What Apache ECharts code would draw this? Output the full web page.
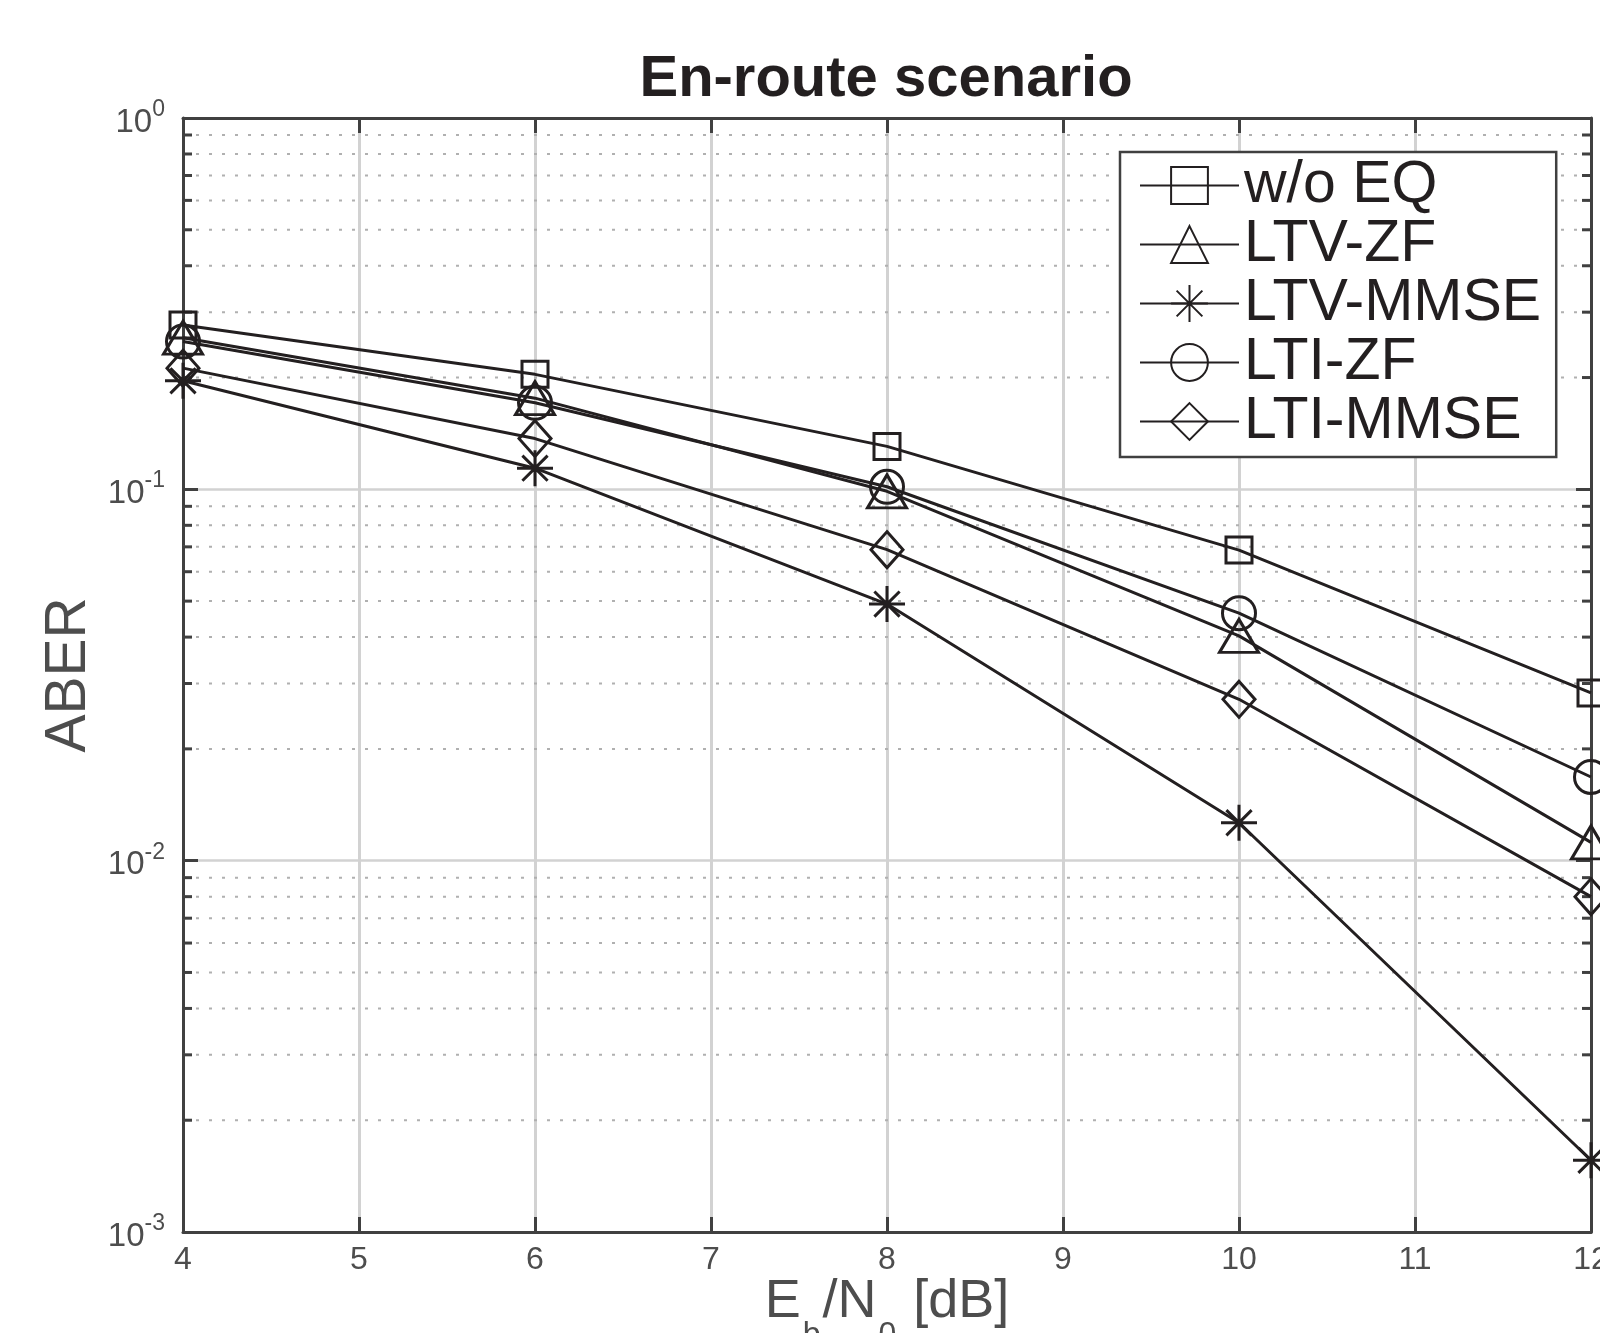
<!DOCTYPE html>
<html>
<head>
<meta charset="utf-8">
<title>En-route scenario</title>
<script src="https://cdn.jsdelivr.net/npm/echarts@6/dist/echarts.min.js"></script>
<style>
  html, body { margin: 0; padding: 0; background: #fff; }
  #chart { width: 1600px; height: 1333px; }
</style>
</head>
<body>
<div id="chart"></div>
<script>
// Eb/N0 in dB
const ebn0 = [4, 6, 8, 10, 12];

// ABER per equalizer
const woEq = [0.277, 0.204, 0.1305, 0.0686, 0.0283];
const ltvZf = [0.256, 0.176, 0.0988, 0.0403, 0.0112];
const ltvMmse = [0.196, 0.114, 0.0491, 0.01265, 0.00156];
const ltiZf = [0.250, 0.171, 0.1016, 0.0464, 0.0168];
const ltiMmse = [0.212, 0.137, 0.0688, 0.0272, 0.0080];

const seriesNames = ["w/o EQ", "LTV-ZF", "LTV-MMSE", "LTI-ZF", "LTI-MMSE"];

// minor grid values of the log axis (2..9 in each decade)
const minorTicks = [
  0.002, 0.003, 0.004, 0.005, 0.006, 0.007, 0.008, 0.009,
  0.02, 0.03, 0.04, 0.05, 0.06, 0.07, 0.08, 0.09,
  0.2, 0.3, 0.4, 0.5, 0.6, 0.7, 0.8, 0.9,
];

const FONT = "Liberation Sans";
const INK = "#231f20";
const AXIS = "#404040";
const TICKTXT = "#4d4d4d";

const star = "path://M10,0 L10,20 M0,10 L20,10 M3,3 L17,17 M3,17 L17,3";

const pairs = (ys) => ebn0.map((x, i) => [x, ys[i]]);

const makeLine = (name, ys, symbol, size) => ({
  name: name,
  type: "line",
  data: pairs(ys),
  symbol: symbol,
  symbolSize: size,
  showSymbol: true,
  z: 3,
  lineStyle: { color: INK, width: 3 },
  itemStyle: { color: "rgba(0,0,0,0)", borderColor: INK, borderWidth: 3 },
  emphasis: { disabled: true },
});

const chart = echarts.init(document.getElementById("chart"));

const option = {
  animation: false,
  backgroundColor: "#fff",
  title: {
    text: "En-route scenario",
    left: 881,
    textAlign: "center",
    top: 46,
    textStyle: {
      fontFamily: FONT,
      fontSize: 58,
      fontWeight: "bold",
      color: INK,
      lineHeight: 58,
    },
  },
  grid: { left: 183, right: 9, top: 118, bottom: 101, outerBoundsMode: "none", containLabel: false },
  legend: {
    data: seriesNames,
    orient: "vertical",
    left: 1120,
    top: 152,
    padding: [4, 15, 6, 19],
    itemGap: 0,
    itemWidth: 99,
    itemHeight: 46,
    selectedMode: false,
    backgroundColor: "#fff",
    borderColor: AXIS,
    borderWidth: 2.5,
    textStyle: {
      fontFamily: FONT,
      fontSize: 59,
      lineHeight: 57,
      color: INK,
    },
  },
  xAxis: [
    {
      type: "value",
      min: 4,
      max: 12,
      interval: 1,
      name: "{b|E}{s|b}{b|/N}{s|0}{b| [dB]}",
      nameLocation: "middle",
      nameGap: 43,
      nameMoveOverlap: false,
      nameTextStyle: {
        fontFamily: FONT,
        fontSize: 54,
        color: TICKTXT,
        rich: {
          b: { fontFamily: FONT, fontSize: 54, lineHeight: 54, color: TICKTXT },
          s: { fontFamily: FONT, fontSize: 32, lineHeight: 32, color: TICKTXT, padding: [66, 2, 0, 2] },
        },
      },
      axisLine: { show: true, lineStyle: { color: AXIS, width: 3 } },
      axisTick: { show: true, inside: true, length: 15, lineStyle: { color: AXIS, width: 3 } },
      axisLabel: { fontFamily: FONT, fontSize: 32, color: TICKTXT, margin: 12 },
      splitLine: { show: true, lineStyle: { color: "#d2d2d2", width: 3 } },
    },
    {
      type: "value",
      position: "top",
      min: 4,
      max: 12,
      interval: 1,
      axisLine: { show: true, lineStyle: { color: AXIS, width: 3 } },
      axisTick: { show: true, inside: true, length: 15, lineStyle: { color: AXIS, width: 3 } },
      axisLabel: { show: false },
      splitLine: { show: false },
    },
  ],
  yAxis: [
    {
      type: "log",
      logBase: 10,
      min: 0.001,
      max: 1,
      name: "ABER",
      nameLocation: "middle",
      nameGap: 85,
      nameMoveOverlap: false,
      nameTextStyle: { fontFamily: FONT, fontSize: 57, color: TICKTXT },
      axisLine: { show: true, lineStyle: { color: AXIS, width: 3 } },
      axisTick: { show: true, inside: true, length: 15, lineStyle: { color: AXIS, width: 3 } },
      axisLabel: {
        margin: 18,
        fontFamily: FONT,
        fontSize: 32,
        color: TICKTXT,
        formatter: (v) => "{b|10}{s|" + Math.round(Math.log10(v)) + "}",
        rich: {
          b: { fontFamily: FONT, fontSize: 33, lineHeight: 33, color: TICKTXT, padding: [9, 0, 0, 0] },
          s: { fontFamily: FONT, fontSize: 23, lineHeight: 23, color: TICKTXT, padding: [0, 0, 17, 0] },
        },
      },
      splitLine: { show: true, lineStyle: { color: "#d2d2d2", width: 2.5 } },
    },
    {
      type: "log",
      logBase: 10,
      min: 0.001,
      max: 1,
      position: "right",
      axisLine: { show: true, lineStyle: { color: AXIS, width: 3 } },
      axisTick: { show: true, inside: true, length: 15, lineStyle: { color: AXIS, width: 3 } },
      axisLabel: { show: false },
      splitLine: { show: false },
    },
  ],
  series: [
    {
      name: "minor",
      type: "custom",
      silent: true,
      z: 1,
      clip: false,
      data: minorTicks.map((v) => [4, v]),
      encode: { x: 0, y: 1 },
      renderItem: (params, api) => {
        const y = api.coord([4, api.value(1)])[1];
        const x0 = params.coordSys.x;
        const x1 = x0 + params.coordSys.width;
        return {
          type: "group",
          children: [
            { type: "line", shape: { x1: x0, y1: y, x2: x1, y2: y }, style: { stroke: "#b0b0b0", lineWidth: 2, lineDash: [3, 10] } },
            { type: "line", shape: { x1: x0, y1: y, x2: x0 + 9, y2: y }, style: { stroke: AXIS, lineWidth: 3 } },
            { type: "line", shape: { x1: x1 - 9, y1: y, x2: x1, y2: y }, style: { stroke: AXIS, lineWidth: 3 } },
          ],
        };
      },
    },
    makeLine("w/o EQ", woEq, "rect", 26),
    makeLine("LTV-ZF", ltvZf, "triangle", [39, 33]),
    makeLine("LTV-MMSE", ltvMmse, star, 36),
    makeLine("LTI-ZF", ltiZf, "circle", 33),
    makeLine("LTI-MMSE", ltiMmse, "diamond", [32, 36]),
  ],
};

chart.setOption(option);
</script>
</body>
</html>
